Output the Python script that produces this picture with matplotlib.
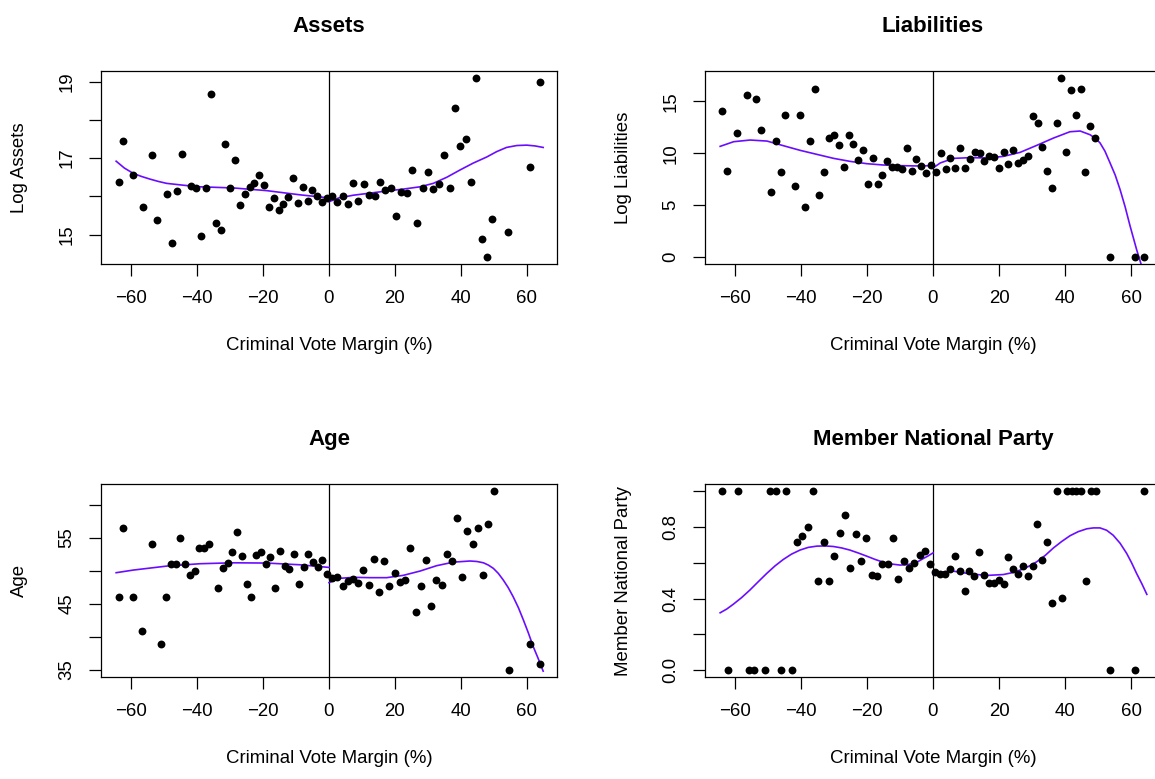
import matplotlib
matplotlib.use("Agg")
import matplotlib.pyplot as plt

# R tarzı görünüm için Helvetica benzeri yazı tipi
plt.rcParams["font.family"] = ["Liberation Sans", "DejaVu Sans"]

# --- veriler ---
xlabel = "Criminal Vote Margin (%)"

# Assets
assets_x = [-63.6, -62.3, -59.3, -56.5, -53.5, -52.0, -49.1, -47.7, -46.2, -44.6, -41.7, -40.2, -38.8,
            -37.3, -35.8, -34.3, -32.8, -31.4, -29.9, -28.5, -27.0, -25.5, -24.0, -22.6, -21.1, -19.7,
            -18.2, -16.8, -15.2, -13.8, -12.3, -10.9, -9.4, -8.0, -6.5, -5.0, -3.5, -2.0, -0.6, 1.0,
            2.5, 4.1, 5.9, 7.4, 8.9, 10.6, 12.2, 13.8, 15.5, 17.1, 18.7, 20.3, 21.9, 23.5, 25.2, 26.8,
            28.4, 30.0, 31.6, 33.3, 34.9, 36.6, 38.2, 39.8, 41.4, 43.0, 44.6, 46.3, 47.9, 49.5, 54.3,
            60.8, 64.0]
assets_y = [16.38, 17.44, 16.57, 15.73, 17.09, 15.39, 16.07, 14.79, 16.15, 17.12, 16.27, 16.23, 14.95,
            16.22, 18.69, 15.31, 15.13, 17.37, 16.22, 16.96, 15.77, 16.06, 16.24, 16.34, 16.57, 16.30,
            15.72, 15.97, 15.63, 15.81, 15.99, 16.48, 15.83, 16.25, 15.89, 16.16, 16.02, 15.84, 15.97,
            16.0, 15.84, 16.0, 15.81, 16.34, 15.89, 16.33, 16.03, 16.01, 16.37, 16.17, 16.22, 15.48,
            16.12, 16.10, 16.69, 15.31, 16.22, 16.65, 16.19, 16.33, 17.09, 16.23, 18.31, 17.33, 17.50,
            16.37, 19.09, 14.89, 14.42, 15.41, 15.08, 16.77, 18.98]
assets_fit_lx = [-64.5, -62.0, -59.3, -56.8, -54.2, -51.7, -49.2, -44.0, -39.1, -29.0, -18.9, -8.8, 0]
assets_fit_ly = [16.92, 16.74, 16.60, 16.52, 16.45, 16.39, 16.34, 16.29, 16.25, 16.22, 16.15, 16.04, 15.96]
assets_fit_rx = [0, 3.0, 7.4, 17.5, 22.5, 27.6, 31.6, 35.7, 39.7, 43.7, 47.8, 50.8, 53.8, 56.9,
                 59.9, 62.4, 64.9]
assets_fit_ry = [15.86, 15.96, 16.03, 16.14, 16.19, 16.25, 16.34, 16.50, 16.69, 16.87, 17.03, 17.17,
                 17.28, 17.33, 17.34, 17.32, 17.28]

# Liabilities
liab_x = [-63.8, -62.3, -59.3, -56.4, -53.5, -52.1, -49.1, -47.6, -46.2, -44.7, -41.8, -40.3, -38.8,
          -37.4, -35.9, -34.5, -33.0, -31.5, -30.0, -28.5, -27.1, -25.6, -24.2, -22.6, -21.2, -19.7,
          -18.3, -16.8, -15.4, -13.8, -12.4, -10.9, -9.4, -8.0, -6.5, -5.1, -3.5, -2.1, -0.6, 0.9,
          2.3, 3.8, 5.3, 6.8, 8.3, 9.7, 11.2, 12.6, 14.1, 15.5, 17.0, 18.5, 19.9, 21.4, 22.8, 24.3,
          25.8, 27.3, 28.8, 30.2, 31.7, 33.1, 34.6, 36.0, 37.5, 38.9, 40.4, 41.9, 43.3, 44.8, 46.2,
          47.7, 49.1, 53.7, 61.1, 64.0]
liab_y = [14.09, 8.25, 11.91, 15.6, 15.25, 12.2, 6.26, 11.14, 8.19, 13.68, 6.8, 13.71, 4.85, 11.2,
          16.15, 6.0, 8.22, 11.43, 11.78, 10.75, 8.7, 11.71, 10.88, 9.31, 10.34, 7.03, 9.57, 7.06,
          7.86, 9.21, 8.63, 8.63, 8.51, 10.46, 8.25, 9.4, 8.77, 8.12, 8.86, 8.15, 10.0, 8.44, 9.5,
          8.6, 10.53, 8.6, 9.47, 10.11, 10.05, 9.25, 9.69, 9.63, 8.57, 10.14, 8.92, 10.27, 9.06,
          9.31, 9.69, 13.55, 12.94, 10.6, 8.28, 6.68, 12.87, 17.24, 10.08, 16.05, 13.71, 16.21,
          8.19, 12.58, 11.43, 0.0, 0.0, 0.0]
liab_fit_lx = [-64.5, -60.4, -55.4, -50.3, -45.3, -40.2, -35.1, -30.1, -25.1, -20.1, -15.1, -10.0, -5.0, 0]
liab_fit_ly = [10.66, 11.11, 11.27, 11.17, 10.72, 10.27, 9.88, 9.5, 9.21, 8.99, 8.86, 8.8, 8.77, 8.8]
liab_fit_rx = [0, 2.2, 6.2, 11.2, 16.3, 21.3, 26.4, 31.4, 36.5, 41.5, 44.6, 47.6, 49.3, 50.6, 52.1,
               53.6, 55.2, 56.7, 58.2, 59.7, 60.7, 61.7, 63.0, 63.6]
liab_fit_ry = [8.57, 9.06, 9.5, 9.57, 9.54, 9.69, 10.08, 10.75, 11.46, 12.07, 12.14, 11.78, 11.4,
               11.0, 10.2, 9.1, 7.9, 6.48, 4.85, 3.0, 1.85, 0.7, -0.65, -1.5]

# Age
age_x = [-63.6, -62.3, -59.5, -56.6, -53.7, -50.8, -49.4, -48.0, -46.5, -45.1, -43.5, -42.1, -40.7,
         -39.3, -37.8, -36.4, -33.6, -32.1, -30.7, -29.3, -27.9, -26.5, -24.9, -23.5, -22.1, -20.7,
         -19.2, -17.8, -16.4, -14.9, -13.4, -12.0, -10.6, -9.2, -7.7, -6.3, -4.8, -3.4, -2.0, -0.6,
         1.0, 2.5, 4.1, 5.7, 7.3, 8.9, 10.4, 12.0, 13.6, 15.2, 16.8, 18.3, 19.9, 21.5, 23.1, 24.6,
         26.3, 27.8, 29.4, 31.0, 32.5, 34.2, 35.7, 37.3, 38.8, 40.4, 41.9, 43.5, 45.2, 46.7, 48.3,
         49.9, 54.6, 60.9, 64.0]
age_y = [45.98, 56.5, 45.98, 40.94, 53.99, 38.97, 45.98, 50.97, 50.97, 54.99, 50.97, 49.3, 50.0,
         53.47, 53.47, 53.99, 47.39, 50.36, 51.12, 52.78, 55.8, 52.27, 47.99, 46.03, 52.42, 52.78,
         50.97, 52.07, 47.39, 52.98, 50.71, 50.26, 52.52, 47.99, 50.51, 52.57, 51.31, 50.51, 51.57,
         49.55, 48.85, 49.09, 47.73, 48.44, 48.75, 48.19, 50.15, 47.79, 51.82, 46.74, 51.52, 47.73,
         49.7, 48.24, 48.55, 53.43, 43.8, 47.64, 51.57, 44.71, 48.6, 47.89, 52.47, 51.47, 57.96,
         49.0, 56.0, 53.99, 56.45, 49.3, 57.0, 62.0, 34.95, 38.97, 35.95]
age_fit_lx = [-64.5, -59.3, -49.2, -39.1, -29.0, -18.9, -8.8, 0]
age_fit_ly = [49.7, 50.1, 50.7, 51.06, 51.2, 51.16, 50.9, 50.5]
age_fit_rx = [0, 3.3, 7.4, 12.4, 17.5, 22.5, 27.6, 32.6, 37.7, 42.7, 44.8, 46.8, 48.3, 49.8, 51.3,
              52.8, 54.3, 55.8, 57.4, 58.9, 60.4, 61.9, 63.4, 64.9]
age_fit_ry = [48.2, 48.85, 49.0, 48.95, 48.95, 49.3, 49.95, 50.76, 51.3, 51.47, 51.4, 51.2, 50.85,
              50.36, 49.6, 48.6, 47.45, 46.07, 44.4, 42.55, 40.6, 38.5, 36.7, 34.8]

# Member National Party
party_x = [-63.8, -62.1, -59.0, -55.8, -54.2, -50.8, -49.4, -47.6, -46.1, -44.5, -42.8, -41.2, -39.6,
           -38.0, -36.4, -34.8, -33.1, -31.5, -29.9, -28.3, -26.7, -25.1, -23.4, -21.8, -20.2, -18.6,
           -17.0, -15.4, -13.7, -12.1, -10.5, -8.9, -7.3, -5.7, -4.0, -2.4, -0.8, 0.6, 2.1, 3.6, 5.2,
           6.7, 8.1, 9.6, 11.0, 12.5, 14.0, 15.5, 17.0, 18.5, 19.9, 21.4, 22.8, 24.3, 25.8, 27.3,
           28.7, 30.2, 31.6, 33.1, 34.5, 36.1, 37.5, 39.0, 40.5, 42.0, 43.4, 44.9, 46.4, 47.8, 49.3,
           53.7, 61.1, 64.0]
party_y = [1, 0, 1, 0, 0, 0, 1, 1, 0, 1, 0, 0.715, 0.748, 0.80, 1, 0.50, 0.715, 0.50, 0.636, 0.765,
           0.867, 0.571, 0.763, 0.61, 0.737, 0.53, 0.528, 0.592, 0.592, 0.737, 0.508, 0.612, 0.571,
           0.599, 0.645, 0.666, 0.593, 0.547, 0.537, 0.537, 0.565, 0.638, 0.554, 0.442, 0.554, 0.526,
           0.659, 0.533, 0.489, 0.489, 0.504, 0.483, 0.634, 0.565, 0.537, 0.584, 0.528, 0.584, 0.819,
           0.614, 0.715, 0.375, 1, 0.401, 1, 1, 1, 1, 0.50, 1, 1, 0, 0, 1]
party_fit_lx = [-64.5, -62.5, -60.5, -58.0, -55.5, -53.0, -50.4, -47.9, -45.4, -42.9, -40.3, -37.8,
                -35.2, -32.7, -30.2, -27.7, -25.2, -22.7, -20.1, -17.6, -15.1, -12.6, -10.0, -8.0,
                -6.0, -4.5, -2.9, -1.5, 0]
party_fit_ly = [0.321, 0.342, 0.369, 0.406, 0.448, 0.494, 0.541, 0.583, 0.619, 0.649, 0.672, 0.687,
                0.694, 0.695, 0.692, 0.684, 0.672, 0.656, 0.638, 0.620, 0.604, 0.594, 0.588, 0.590,
                0.597, 0.608, 0.625, 0.639, 0.656]
party_fit_rx = [0, 3.1, 6.2, 11.2, 16.3, 21.3, 23.9, 26.4, 28.9, 31.4, 34.0, 36.5, 39.0, 41.5, 44.0,
                46.6, 48.6, 50.6, 52.6, 54.6, 56.7, 58.7, 60.2, 61.7, 63.3, 64.8]
party_fit_ry = [0.535, 0.55, 0.554, 0.539, 0.53, 0.535, 0.545, 0.56, 0.58, 0.606, 0.642, 0.684,
                0.72, 0.752, 0.775, 0.791, 0.796, 0.796, 0.783, 0.755, 0.71, 0.653, 0.60, 0.541,
                0.483, 0.424]

x_ticks = [-60, -40, -20, 0, 20, 40, 60]

# --- şekil ---
W, H = 1155, 779
fig = plt.figure(figsize=(W / 100, H / 100), dpi=100)

fit_color = "#6a0dff"
fs = 13.4


def panel(left, top, title, ylab, x, y, lx, ly, rx, ry, ylim, yticks, ylabels):
    # piksel cinsinden kutu konumu
    ax = fig.add_axes([left / W, 1 - (top + 193) / H, 455.4 / W, 193 / H])
    ax.axvline(0, color="black", lw=0.9, zorder=1)
    ax.scatter(x, y, s=32, color="black", zorder=3, linewidths=0)
    ax.plot(lx, ly, color=fit_color, lw=1.2, zorder=2)
    ax.plot(rx, ry, color=fit_color, lw=1.2, zorder=2)
    ax.set_xlim(-69, 69)
    ax.set_ylim(*ylim)
    ax.set_xticks(x_ticks)
    ax.set_xticklabels([str(t).replace("-", "\u2212") for t in x_ticks], fontsize=fs)
    ax.set_yticks(yticks)
    ax.set_yticklabels(ylabels, rotation=90, va="center", fontsize=fs)
    ax.tick_params(direction="out", length=8.3, width=0.9, pad=10.5)
    for s in ax.spines.values():
        s.set_linewidth(0.9)
    ax.set_title(title, fontsize=16, fontweight="bold", pad=28)
    ax.set_xlabel(xlabel, fontsize=fs)
    ax.xaxis.set_label_coords(0.5, -0.376)
    ax.set_ylabel(ylab, fontsize=fs)
    ax.yaxis.set_label_coords(-0.162, 0.5)
    return ax


panel(101.3, 71, "Assets", "Log Assets", assets_x, assets_y,
      assets_fit_lx, assets_fit_ly, assets_fit_rx, assets_fit_ry,
      (14.23, 19.28), [15, 16, 17, 18, 19], ["15", "", "17", "", "19"])
panel(705.3, 71, "Liabilities", "Log Liabilities", liab_x, liab_y,
      liab_fit_lx, liab_fit_ly, liab_fit_rx, liab_fit_ry,
      (-0.69, 17.93), [0, 5, 10, 15], ["0", "5", "10", "15"])
panel(101.3, 484.3, "Age", "Age", age_x, age_y,
      age_fit_lx, age_fit_ly, age_fit_rx, age_fit_ry,
      (33.87, 63.08), [35, 40, 45, 50, 55, 60], ["35", "", "45", "", "55", ""])
panel(705.3, 484.3, "Member National Party", "Member National Party", party_x, party_y,
      party_fit_lx, party_fit_ly, party_fit_rx, party_fit_ry,
      (-0.04, 1.04), [0, 0.2, 0.4, 0.6, 0.8, 1.0], ["0.0", "", "0.4", "", "0.8", ""])

fig.savefig("out.png", dpi=100)
